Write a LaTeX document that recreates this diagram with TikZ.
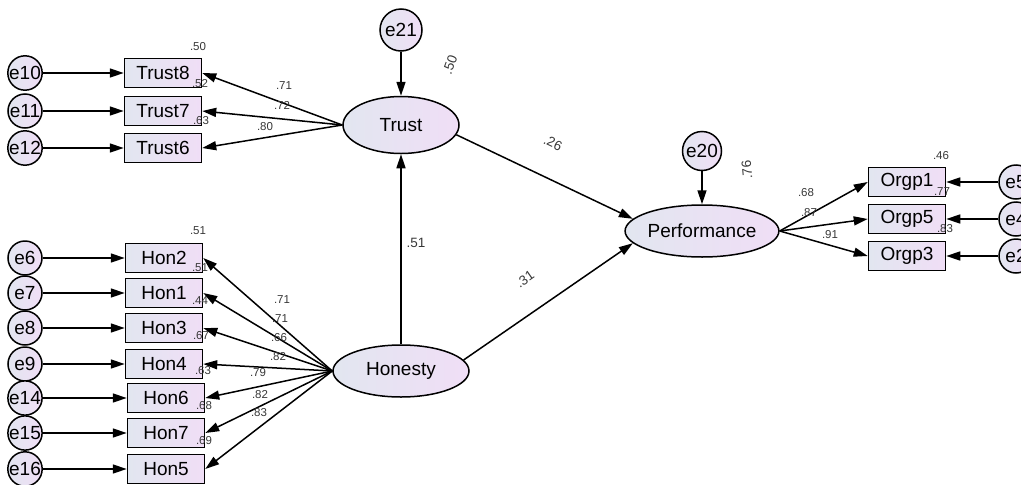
\documentclass[tikz,border=0pt]{standalone}
\usepackage{fontspec}
\setmainfont{Liberation Sans}
\usetikzlibrary{shapes.geometric,arrows.meta}

\definecolor{fillL}{RGB}{226,230,240}
\definecolor{fillR}{RGB}{240,222,246}
\definecolor{numgray}{RGB}{55,55,55}

\tikzset{
  obsbox/.style={draw, line width=1.5pt, left color=fillL, right color=fillR,
    minimum width=77pt, minimum height=29pt, inner sep=0pt,
    font=\fontsize{19}{19}\selectfont},
  latent/.style={ellipse, draw, line width=1.5pt, left color=fillL, right color=fillR,
    inner sep=0pt, font=\fontsize{19}{19}\selectfont},
  errc/.style={circle, draw, line width=1.5pt, left color=fillL, right color=fillR,
    minimum size=34pt, inner sep=0pt, font=\fontsize{19}{19}\selectfont},
  coef/.style={text=numgray, inner sep=0pt, font=\fontsize{11.5}{11.5}\selectfont},
  pathcoef/.style={text=numgray, inner sep=0pt, font=\fontsize{13.5}{13.5}\selectfont},
  arr/.style={-{Triangle[length=14pt,width=9pt]}, line width=1.5pt},
}

\begin{document}
\begin{tikzpicture}[x=1pt,y=-1pt]
    \useasboundingbox (0,0) rectangle (1021,485);

    % latent variables
    \node[latent, minimum width=116pt, minimum height=57pt] (trust) at (401,125) {Trust};
    \node[latent, minimum width=136pt, minimum height=52pt] (honesty) at (401,371) {Honesty};
    \node[latent, minimum width=135pt, minimum height=52pt] (perf) at (702,231) {Performance};
    \node[errc, minimum size=42pt] (e21) at (401,30) {e21};
    \node[errc, minimum size=39pt] (e20) at (702,151) {e20};

    % trust indicators
    \node[obsbox] (trust8) at (163,73) {Trust8};
    \node[obsbox] (trust7) at (163,111) {Trust7};
    \node[obsbox] (trust6) at (163,148) {Trust6};
    \node[errc] (e10) at (25,73) {e10};
    \node[errc] (e11) at (25,111) {e11};
    \node[errc] (e12) at (25,148) {e12};

    % honesty indicators
    \node[obsbox] (hon2) at (164,258) {Hon2};
    \node[obsbox] (hon1) at (164,293) {Hon1};
    \node[obsbox] (hon3) at (164,328) {Hon3};
    \node[obsbox] (hon4) at (164,364) {Hon4};
    \node[obsbox] (hon6) at (166,398) {Hon6};
    \node[obsbox] (hon7) at (166,433) {Hon7};
    \node[obsbox] (hon5) at (166,469) {Hon5};
    \node[errc] (e6) at (25,258) {e6};
    \node[errc] (e7) at (25,293) {e7};
    \node[errc] (e8) at (25,328) {e8};
    \node[errc] (e9) at (25,364) {e9};
    \node[errc] (e14) at (25,398) {e14};
    \node[errc] (e15) at (25,433) {e15};
    \node[errc] (e16) at (25,469) {e16};

    % performance indicators
    \node[obsbox] (orgp1) at (907,182) {Orgp1};
    \node[obsbox] (orgp5) at (907,219) {Orgp5};
    \node[obsbox] (orgp3) at (907,256) {Orgp3};
    \node[errc] (e5) at (1016,182) {e5};
    \node[errc] (e4) at (1016,219) {e4};
    \node[errc] (e2) at (1016,256) {e2};

    % error arrows
    \draw[arr] (e10) -- (trust8);
    \draw[arr] (e11) -- (trust7);
    \draw[arr] (e12) -- (trust6);
    \draw[arr] (e6) -- (hon2);
    \draw[arr] (e7) -- (hon1);
    \draw[arr] (e8) -- (hon3);
    \draw[arr] (e9) -- (hon4);
    \draw[arr] (e14) -- (hon6);
    \draw[arr] (e15) -- (hon7);
    \draw[arr] (e16) -- (hon5);
    \draw[arr] (e5) -- (orgp1);
    \draw[arr] (e4) -- (orgp5);
    \draw[arr] (e2) -- (orgp3);
    \draw[arr] (e21) -- (trust);
    \draw[arr] (e20) -- (perf);

    % loadings
    \draw[arr] (trust.west) -- (trust8.east);
    \draw[arr] (trust.west) -- (trust7.east);
    \draw[arr] (trust.west) -- (trust6.east);
    \draw[arr] (honesty.west) -- (hon2.east);
    \draw[arr] (honesty.west) -- (hon1.east);
    \draw[arr] (honesty.west) -- (hon3.east);
    \draw[arr] (honesty.west) -- (hon4.east);
    \draw[arr] (honesty.west) -- (hon6.east);
    \draw[arr] (honesty.west) -- (hon7.east);
    \draw[arr] (honesty.west) -- (hon5.east);
    \draw[arr] (perf.east) -- (orgp1.west);
    \draw[arr] (perf.east) -- (orgp5.west);
    \draw[arr] (perf.east) -- (orgp3.west);

    % structural paths
    \draw[arr] (honesty.north) -- (trust.south);
    \draw[arr] (trust.-10) -- (perf.170);
    \draw[arr] (honesty.10) -- (perf.190);

    % squared multiple correlations
    \node[coef] (r2trust8) at (198,47) {.50};
    \node[coef] (r2trust7) at (200,84) {.52};
    \node[coef] (r2trust6) at (201,121) {.63};
    \node[coef] (r2hon2) at (198,231) {.51};
    \node[coef] (r2hon1) at (200,268) {.51};
    \node[coef] (r2hon3) at (200,301) {.44};
    \node[coef] (r2hon4) at (201,336) {.67};
    \node[coef] (r2hon6) at (203,371) {.63};
    \node[coef] (r2hon7) at (204,406) {.68};
    \node[coef] (r2hon5) at (204,441) {.69};
    \node[coef] (r2orgp1) at (941,156) {.46};
    \node[coef] (r2orgp5) at (942,192) {.77};
    \node[coef] (r2orgp3) at (945,229) {.83};
    \node[pathcoef, rotate=70] (r2trust) at (450,65) {.50};
    \node[pathcoef, rotate=95] (r2perf) at (747,170) {.76};

    % loading values
    \node[coef] (ldtrust8) at (284,86) {.71};
    \node[coef] (ldtrust7) at (282,105) {.72};
    \node[coef] (ldtrust6) at (265,127) {.80};
    \node[coef] (ldhon2) at (282,300) {.71};
    \node[coef] (ldhon1) at (280,319) {.71};
    \node[coef] (ldhon3) at (279,338) {.66};
    \node[coef] (ldhon4) at (278,357) {.82};
    \node[coef] (ldhon6) at (258,373) {.79};
    \node[coef] (ldhon7) at (260,395) {.82};
    \node[coef] (ldhon5) at (259,413) {.83};
    \node[coef] (ldorgp1) at (806,193) {.68};
    \node[coef] (ldorgp5) at (809,213) {.87};
    \node[coef] (ldorgp3) at (830,235) {.91};

    % path values
    \node[pathcoef] (bhontrust) at (416,243) {.51};
    \node[pathcoef, rotate=-25] (btrustperf) at (553,143) {.26};
    \node[pathcoef, rotate=35] (bhonperf) at (525,279) {.31};
\end{tikzpicture}
\end{document}
